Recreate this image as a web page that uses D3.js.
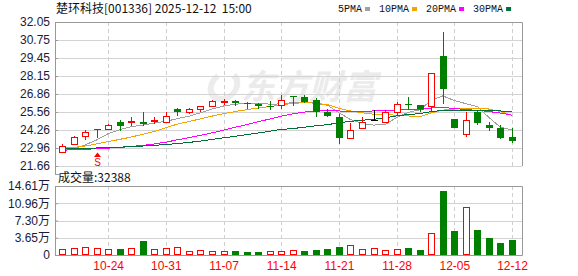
<!DOCTYPE html>
<html><head><meta charset="utf-8">
<script src="https://cdn.jsdelivr.net/npm/d3@7"></script>
<style>body{margin:0;background:#fff} svg{display:block}</style>
</head><body><svg id="c" width="578" height="276"></svg>
<script>
const dates = ["10-20","10-21","10-22","10-23","10-24","10-27","10-28","10-29","10-30","10-31",
  "11-03","11-04","11-05","11-06","11-07","11-10","11-11","11-12","11-13","11-14",
  "11-17","11-18","11-19","11-20","11-21","11-24","11-25","11-26","11-27","11-28",
  "12-01","12-02","12-03","12-04","12-05","12-08","12-09","12-10","12-11","12-12"];
const opens = [22.65,23.25,23.81,24.30,24.34,24.87,24.85,24.87,24.88,24.87,
  25.74,25.55,25.74,26.02,26.30,26.37,26.20,26.12,26.01,26.03,
  26.71,26.63,26.44,25.59,25.23,23.71,24.39,24.99,24.87,25.55,
  26.12,26.06,25.98,29.63,25.06,23.95,25.59,24.63,24.39,23.76];
const highs = [23.23,23.85,24.29,24.36,24.66,24.97,25.18,25.59,25.23,25.59,
  25.81,25.84,26.00,26.41,26.51,26.42,26.31,26.24,26.36,26.75,
  26.72,26.80,26.56,25.76,25.40,24.75,25.18,25.71,25.73,26.31,
  26.64,26.08,28.37,31.32,25.08,25.55,25.60,24.87,24.63,24.39];
const lows = [22.62,23.18,23.56,23.66,24.26,24.19,24.58,24.55,24.72,24.80,
  25.28,25.40,25.59,26.00,26.05,26.00,25.80,25.78,25.69,25.74,
  26.02,26.17,25.16,25.16,23.27,23.66,24.39,24.92,24.85,25.32,
  25.70,25.55,25.55,26.13,24.40,23.78,24.63,24.19,23.61,23.30];
const closes = [23.13,23.76,24.14,24.27,24.63,24.58,24.88,24.70,24.99,25.26,
  25.55,25.74,25.98,26.32,26.34,26.17,26.15,25.97,25.99,26.43,
  26.68,26.27,25.59,25.30,23.66,24.24,24.87,24.99,25.55,26.14,
  26.10,25.77,28.37,27.21,24.43,25.01,24.75,24.39,23.71,23.47];
const volumes = [1.27,1.42,1.63,1.42,1.21,1.34,1.48,3.03,1.21,1.42,
  1.63,0.85,1.06,0.85,0.85,0.91,0.70,0.70,0.85,0.85,
  1.06,0.91,1.06,1.27,1.69,2.12,1.27,1.42,1.06,1.21,
  1.48,1.06,4.59,13.55,5.08,10.10,5.29,3.60,2.54,3.2388];
const ma5 = [22.82,22.89,23.18,23.54,23.99,24.28,24.50,24.61,24.76,24.88,
  25.08,25.25,25.50,25.77,25.99,26.11,26.20,26.20,26.12,26.14,
  26.24,26.26,26.19,26.05,25.50,25.01,24.73,24.61,24.66,25.16,
  25.53,25.71,26.39,26.72,26.38,26.16,25.95,25.16,24.46,24.27];
const ma10 = [22.94,23.00,23.10,23.25,23.42,23.58,23.75,23.95,24.15,24.43,
  24.68,24.87,25.06,25.26,25.43,25.59,25.72,25.85,25.95,26.06,
  26.18,26.23,26.19,26.09,25.82,25.63,25.50,25.40,25.36,25.33,
  25.27,25.22,25.50,25.69,25.77,25.84,25.83,25.77,25.59,25.32];
const ma20 = [22.80,22.83,22.87,22.90,22.95,23.00,23.07,23.15,23.25,23.38,
  23.55,23.70,23.87,24.05,24.25,24.45,24.65,24.85,25.05,25.25,
  25.43,25.55,25.63,25.68,25.63,25.61,25.61,25.63,25.66,25.70,
  25.73,25.73,25.85,25.89,25.80,25.74,25.67,25.59,25.48,25.33];
const ma30 = [22.88,22.90,22.93,22.96,22.99,23.02,23.06,23.10,23.15,23.21,
  23.28,23.36,23.46,23.58,23.70,23.80,23.92,24.04,24.17,24.30,
  24.36,24.46,24.56,24.64,24.78,24.88,24.96,25.03,25.13,25.28,
  25.37,25.44,25.58,25.68,25.67,25.69,25.68,25.67,25.63,25.57];
const maNames = ["5PMA","10PMA","20PMA","30PMA"];
const maColors = ["#a0a0a0","#f5a300","#ff00ff","#00703a"];
const priceTicks = [21.66,22.96,24.26,25.56,26.86,28.15,29.45,30.75,32.05];
const volTicks = [0,3.65,7.30,10.96,14.61];
const volTickLabels = ["0","3.65万","7.30万","10.96万","14.61万"];
const xTickDates = ["10-24","10-31","11-07","11-14","11-21","11-28","12-05","12-12"];
const markerDates = ["10-23"];
const titleText = "楚环科技[001336] 2025-12-12  15:00";
const volTitle = "成交量:32388";
const watermark = "东方财富";

const RED = "#ff0000", GREEN = "#008000";
const svg = d3.select("#c");
const L = 55, R = 522, PT = 22, PB = 166, VT = 186, VB = 255;
const x = d3.scalePoint().domain(dates).range([62, 512]);
const yP = d3.scaleLinear().domain([21.66, 32.05]).range([PB, PT]);
const yV = d3.scaleLinear().domain([0, 14.61]).range([VB, VT]);
const font = "Arial, 'Liberation Sans', 'Noto Sans CJK SC', sans-serif";
const px = v => Math.round(v) + 0.5;

// title
svg.append("text").attr("x", 56).attr("y", 13).attr("font-size", 12)
  .attr("font-family", "'Noto Sans CJK SC', sans-serif").attr("fill", "#111")
  .style("white-space", "pre").text(titleText);

// legend
let lx = 338;
maNames.forEach((n, i) => {
  const t = svg.append("text").attr("x", lx).attr("y", 12).attr("font-size", 10)
    .attr("font-family", "'Liberation Mono', monospace").attr("fill", "#111").text(n);
  const w = t.node().getComputedTextLength();
  svg.append("rect").attr("x", lx + w + 3).attr("y", 7).attr("width", 5).attr("height", 4).attr("fill", maColors[i]);
  lx += w + 3 + 5 + 9;
});

// watermark
const wm = svg.append("g");
wm.append("path").attr("d", d3.arc()({innerRadius: 10, outerRadius: 16, startAngle: 0.6, endAngle: 5.6}))
  .attr("transform", "translate(224,86) skewX(-12)").attr("fill", "#ececec");
wm.append("text").attr("x", 241).attr("y", 99).attr("font-size", 34).attr("font-weight", "bold")
  .attr("font-style", "italic").attr("font-family", "'Noto Sans CJK SC', sans-serif")
  .attr("fill", "#ebebeb").text(watermark);

// price grid
svg.append("g").selectAll("line").data(priceTicks.slice(0, -1)).join("line")
  .attr("x1", L).attr("x2", R).attr("y1", d => px(yP(d))).attr("y2", d => px(yP(d)))
  .attr("stroke", "#d3d3d3");
// volume grid
svg.append("g").selectAll("line").data(volTicks.slice(1, -1)).join("line")
  .attr("x1", L).attr("x2", R).attr("y1", d => px(yV(d))).attr("y2", d => px(yV(d)))
  .attr("stroke", "#d3d3d3");
// vertical dashed
const vg = svg.append("g");
xTickDates.forEach(d => {
  const xx = px(x(d));
  vg.append("line").attr("x1", xx).attr("x2", xx).attr("y1", PT).attr("y2", PB)
    .attr("stroke", "#cfcfcf").attr("stroke-dasharray", "4,3");
  vg.append("line").attr("x1", xx).attr("x2", xx).attr("y1", VT).attr("y2", VB)
    .attr("stroke", "#cfcfcf").attr("stroke-dasharray", "4,3");
});

// borders
const bd = svg.append("g").attr("stroke", "#999").attr("fill", "none");
bd.append("path").attr("d", `M${L+0.5},${174}V${PT+0.5}H${R+0.5}V${PB}`);
bd.append("path").attr("d", `M${L+0.5},${VT+0.5}H${R+0.5}V${VB+0.5}H${L+0.5}Z`);
bd.append("line").attr("x1", L).attr("x2", L + 4).attr("y1", 174.5).attr("y2", 174.5);

// axes
const axP = svg.append("g").attr("transform", `translate(${L},0)`)
  .call(d3.axisLeft(yP).tickValues(priceTicks).tickFormat(d => d.toFixed(2)).tickSize(-3).tickPadding(5));
const axV = svg.append("g").attr("transform", `translate(${L},0)`)
  .call(d3.axisLeft(yV).tickValues(volTicks).tickFormat((d, i) => volTickLabels[i]).tickSize(-3).tickPadding(5));
const axX = svg.append("g").attr("transform", `translate(0,${VB})`)
  .call(d3.axisBottom(x).tickValues(xTickDates).tickSize(0).tickPadding(6));
[axP, axV, axX].forEach(a => {
  a.select(".domain").remove();
  a.selectAll(".tick line").attr("stroke", "#999");
  a.selectAll("text").attr("font-size", 12).attr("font-family", font);
});
axP.selectAll("text").attr("fill", "#1a1a3a");
axV.selectAll("text").attr("fill", "#1a1a3a");
axX.selectAll("text").attr("fill", RED);

// volume title
svg.append("text").attr("x", 58).attr("y", 182).attr("font-size", 12)
  .attr("font-family", "'Noto Sans CJK SC', sans-serif").attr("fill", "#111").text(volTitle);

// MA lines (aliased, like the reference)
[ma5, ma10, ma20, ma30].forEach((arr, k) => {
  svg.append("path").datum(arr)
    .attr("d", d3.line().x((d, i) => x(dates[i])).y(d => yP(d)))
    .attr("fill", "none").attr("stroke", maColors[k]).attr("stroke-width", 1)
    .attr("shape-rendering", "crispEdges");
});

// candles
const cg = svg.append("g").attr("shape-rendering", "crispEdges");
dates.forEach((d, i) => {
  const cx = Math.round(x(d));
  const o = opens[i], c = closes[i], h = highs[i], l = lows[i];
  const col = c > o ? RED : (c < o ? GREEN : "#000");
  const yt = Math.round(yP(Math.max(o, c))), yb = Math.round(yP(Math.min(o, c)));
  const yh = Math.round(yP(h)), yl = Math.round(yP(l));
  if (c > o) {
    cg.append("line").attr("x1", cx + 0.5).attr("x2", cx + 0.5).attr("y1", yh).attr("y2", yt).attr("stroke", col);
    cg.append("line").attr("x1", cx + 0.5).attr("x2", cx + 0.5).attr("y1", yb).attr("y2", yl).attr("stroke", col);
    cg.append("rect").attr("x", cx - 2.5).attr("y", yt + 0.5).attr("width", 6).attr("height", Math.max(1, yb - yt))
      .attr("fill", "#fff").attr("stroke", col);
  } else {
    cg.append("line").attr("x1", cx + 0.5).attr("x2", cx + 0.5).attr("y1", yh).attr("y2", yl).attr("stroke", col);
    if (yb - yt >= 1) {
      cg.append("rect").attr("x", cx - 3).attr("y", yt).attr("width", 7).attr("height", yb - yt).attr("fill", col);
    } else {
      cg.append("line").attr("x1", cx - 3).attr("x2", cx + 4).attr("y1", yt + 0.5).attr("y2", yt + 0.5).attr("stroke", col);
    }
  }
});

// volume bars (colour by close vs previous close)
const vb = svg.append("g").attr("shape-rendering", "crispEdges");
dates.forEach((d, i) => {
  const cx = Math.round(x(d));
  const prev = i === 0 ? opens[0] : closes[i - 1];
  const up = closes[i] >= prev;
  const yt = Math.round(yV(volumes[i]));
  if (up) {
    vb.append("rect").attr("x", cx - 2.5).attr("y", yt + 0.5).attr("width", 6).attr("height", VB - yt - 1)
      .attr("fill", "#fff").attr("stroke", RED);
  } else {
    vb.append("rect").attr("x", cx - 3).attr("y", yt).attr("width", 7).attr("height", VB - yt).attr("fill", GREEN);
  }
});

// event markers
markerDates.forEach(d => {
  const cx = Math.round(x(d));
  svg.append("path").attr("d", `M${cx - 3},157L${cx + 0.5},152.5L${cx + 4},157Z`).attr("fill", RED);
  svg.append("text").attr("x", cx + 0.5).attr("y", 166).attr("text-anchor", "middle").attr("font-size", 10)
    .attr("font-family", font).attr("fill", RED).text("S");
});
</script></body></html>
